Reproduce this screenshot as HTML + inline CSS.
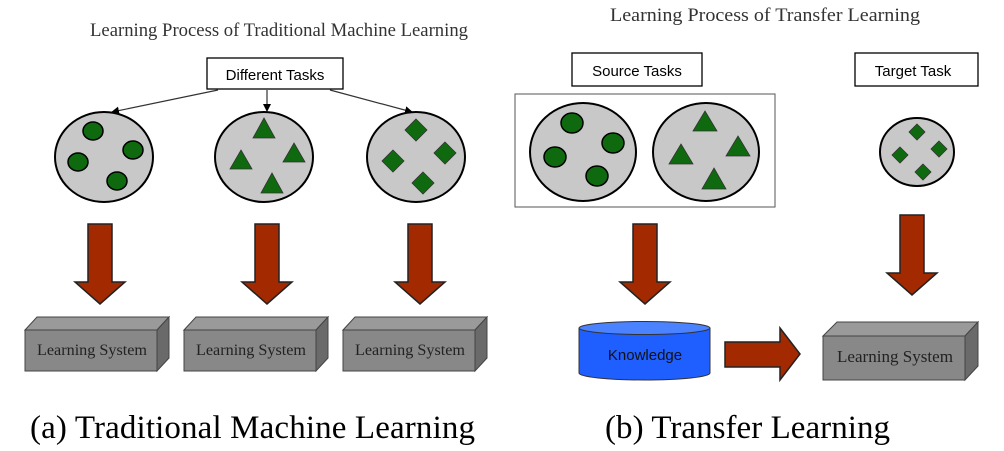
<!DOCTYPE html>
<html><head><meta charset="utf-8"><style>
html,body{margin:0;padding:0;background:#fff;}
svg{display:block;}
.serif{font-family:"Liberation Serif",serif;}
.sans{font-family:"Liberation Sans",sans-serif;}
</style></head><body>
<svg width="1004" height="451" viewBox="0 0 1004 451" xmlns="http://www.w3.org/2000/svg">
<defs>
<marker id="ah" markerWidth="8" markerHeight="8" refX="7" refY="4" orient="auto" markerUnits="userSpaceOnUse">
<path d="M0,0 L8,4 L0,8 Z" fill="#000"/></marker>
<g id="rdown"><path d="M-12,0 H12 V58 H25 L0,80 L-25,58 H-12 Z" fill="#a32a00" stroke="#222" stroke-width="1.5"/></g>
<g id="ls">
<path d="M0,13 L12,0 H144 L132,13 Z" fill="#9a9a9a" stroke="#444"/>
<path d="M132,13 L144,0 V41 L132,54 Z" fill="#6a6a6a" stroke="#444"/>
<rect x="0" y="13" width="132" height="41" fill="#888" stroke="#444"/>
</g>
</defs>

<text x="90" y="36" class="serif" font-size="18.5" fill="#333" textLength="378" lengthAdjust="spacingAndGlyphs">Learning Process of Traditional Machine Learning</text>
<rect x="207" y="58" width="136" height="31" fill="#fff" stroke="#000" stroke-width="1.3"/>
<text x="275" y="80" class="sans" font-size="15" text-anchor="middle">Different Tasks</text>
<line x1="218" y1="90" x2="112" y2="112" stroke="#333" stroke-width="1.2" marker-end="url(#ah)"/>
<line x1="267" y1="90" x2="267" y2="111" stroke="#333" stroke-width="1.2" marker-end="url(#ah)"/>
<line x1="330" y1="90" x2="412" y2="112" stroke="#333" stroke-width="1.2" marker-end="url(#ah)"/>

<g fill="#c8c8c8" stroke="#000" stroke-width="2">
<ellipse cx="104" cy="157" rx="49" ry="45"/>
<ellipse cx="264" cy="157" rx="49" ry="45"/>
<ellipse cx="416" cy="157" rx="49" ry="45"/>
<ellipse cx="583" cy="152" rx="53" ry="49"/>
<ellipse cx="706" cy="152" rx="53" ry="49"/>
<ellipse cx="917" cy="152" rx="37" ry="34"/>
</g>
<g fill="#0f6a0f" stroke="#000" stroke-width="1.5">
<ellipse cx="93" cy="131" rx="10" ry="9"/>
<ellipse cx="78" cy="162" rx="10" ry="9"/>
<ellipse cx="133" cy="150" rx="10" ry="9"/>
<ellipse cx="117" cy="181" rx="10" ry="9"/>
<ellipse cx="572" cy="123" rx="11" ry="10"/>
<ellipse cx="555" cy="157" rx="11" ry="10"/>
<ellipse cx="613" cy="143" rx="11" ry="10"/>
<ellipse cx="597" cy="176" rx="11" ry="10"/>
</g>
<g fill="#0f6a0f" stroke="#333" stroke-width="0.8">
<path d="M264,118 L275,138 L253,138 Z"/>
<path d="M241,150 L252,169 L230,169 Z"/>
<path d="M294,143 L305,162 L283,162 Z"/>
<path d="M272,173 L283,193 L261,193 Z"/>
<path d="M705,111 L717,131 L693,131 Z"/>
<path d="M681,144 L693,164 L669,164 Z"/>
<path d="M738,136 L750,156 L726,156 Z"/>
<path d="M714,168 L726,189 L702,189 Z"/>
<path d="M416,119 L427,130 L416,141 L405,130 Z"/>
<path d="M393,150 L404,161 L393,172 L382,161 Z"/>
<path d="M445,142 L456,153 L445,164 L434,153 Z"/>
<path d="M423,172 L434,183 L423,194 L412,183 Z"/>
<path d="M917,124 L925,132 L917,140 L909,132 Z"/>
<path d="M900,147 L908,155 L900,163 L892,155 Z"/>
<path d="M939,141 L947,149 L939,157 L931,149 Z"/>
<path d="M923,164 L931,172 L923,180 L915,172 Z"/>
</g>

<use href="#rdown" x="100" y="224"/>
<use href="#rdown" x="267" y="224"/>
<use href="#rdown" x="420" y="224"/>

<use href="#ls" x="25" y="317"/>
<use href="#ls" x="184" y="317"/>
<use href="#ls" x="343" y="317"/>
<g class="serif" font-size="16" fill="#222">
<text x="37" y="355" textLength="110" lengthAdjust="spacingAndGlyphs">Learning System</text>
<text x="196" y="355" textLength="110" lengthAdjust="spacingAndGlyphs">Learning System</text>
<text x="355" y="355" textLength="110" lengthAdjust="spacingAndGlyphs">Learning System</text>
</g>
<text x="30" y="438" class="serif" font-size="33" fill="#000" textLength="445" lengthAdjust="spacing">(a)  Traditional Machine Learning</text>

<text x="610" y="21" class="serif" font-size="18.5" fill="#333" textLength="310" lengthAdjust="spacingAndGlyphs">Learning Process of Transfer Learning</text>
<rect x="572" y="53" width="130" height="33" fill="#fff" stroke="#000" stroke-width="1.3"/>
<text x="637" y="76" class="sans" font-size="15" text-anchor="middle">Source Tasks</text>
<rect x="855" y="53" width="123" height="33" fill="#fff" stroke="#000" stroke-width="1.3"/>
<text x="913" y="76" class="sans" font-size="15" text-anchor="middle">Target Task</text>
<rect x="515" y="94" width="260" height="113" fill="none" stroke="#555" stroke-width="1"/>

<use href="#rdown" x="645" y="224"/>
<use href="#rdown" x="912" y="215"/>

<path d="M579,328 V373 A65.5,7 0 0 0 710,373 V328" fill="#1f5fff" stroke="#333"/>
<ellipse cx="644.5" cy="328" rx="65.5" ry="6.5" fill="#4a82ff" stroke="#333"/>
<text x="645" y="360" class="sans" font-size="15" fill="#111" text-anchor="middle">Knowledge</text>

<path d="M725,342 H780 V328 L800,354 L780,380 V367 H725 Z" fill="#a32a00" stroke="#222" stroke-width="1.5"/>

<g>
<path d="M823,336 L837,322 H978 L965,336 Z" fill="#9a9a9a" stroke="#444"/>
<path d="M965,336 L978,322 V366 L965,380 Z" fill="#6a6a6a" stroke="#444"/>
<rect x="823" y="336" width="142" height="44" fill="#888" stroke="#444"/>
</g>
<text x="837" y="362" class="serif" font-size="17" fill="#222" textLength="116" lengthAdjust="spacingAndGlyphs">Learning System</text>

<text x="605" y="438" class="serif" font-size="33" fill="#000" textLength="285" lengthAdjust="spacing">(b)  Transfer Learning</text>
</svg>
</body></html>
